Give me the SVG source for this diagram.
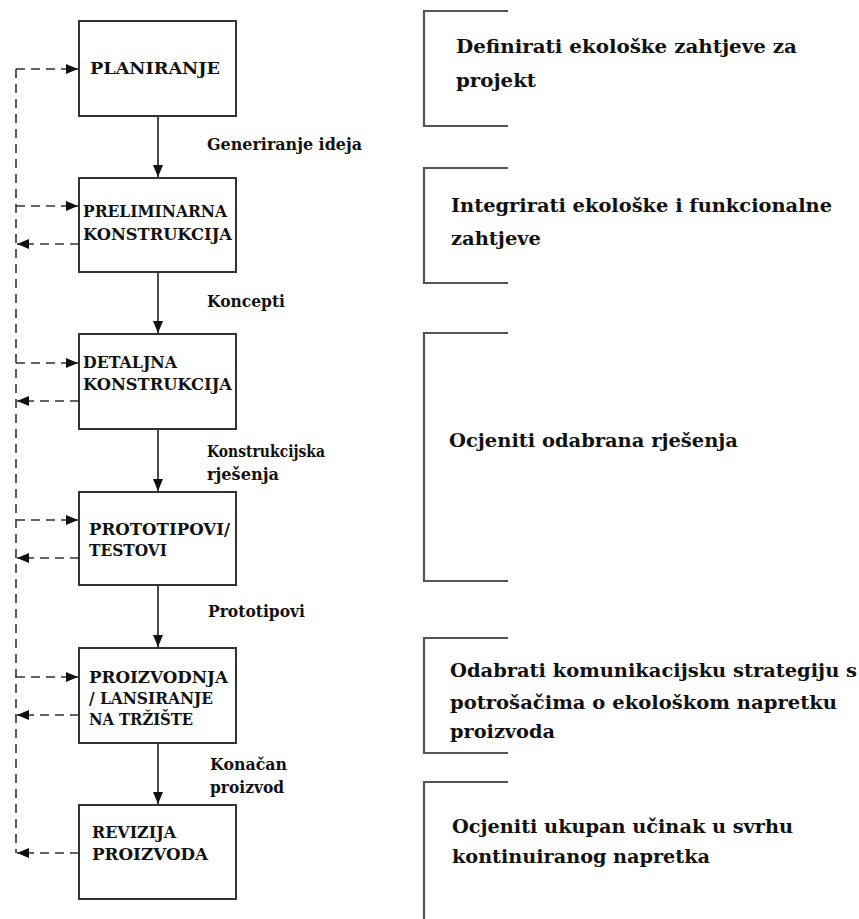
<svg xmlns="http://www.w3.org/2000/svg" width="859" height="919" viewBox="0 0 859 919">
<style>
.box{fill:#fff;stroke:#333;stroke-width:2}
.bt{font-family:"DejaVu Serif","Liberation Serif",serif;font-weight:bold;font-size:16px;fill:#111}
.lt{font-family:"DejaVu Serif","Liberation Serif",serif;font-weight:bold;font-size:16px;fill:#111}
.rt{font-family:"DejaVu Serif","Liberation Serif",serif;font-weight:bold;font-size:19px;fill:#111}
.solid{stroke:#111;stroke-width:1.5;fill:none}
.dash{stroke:#333;stroke-width:1.6;fill:none;stroke-dasharray:9 6}
.br{stroke:#555;stroke-width:2.2;fill:none}
</style>
<defs>
<marker id="ah" markerUnits="userSpaceOnUse" markerWidth="12" markerHeight="10" refX="12" refY="5" orient="auto">
<path d="M0,0 L12,5 L0,10 z" fill="#111"/>
</marker>
</defs>
<rect width="859" height="919" fill="#fff"/>

<g id="connectors">
<line class="solid" x1="158" y1="116" x2="158" y2="177" marker-end="url(#ah)"/>
<line class="solid" x1="158" y1="272" x2="158" y2="333" marker-end="url(#ah)"/>
<line class="solid" x1="158" y1="429" x2="158" y2="491" marker-end="url(#ah)"/>
<line class="solid" x1="158" y1="585" x2="158" y2="647" marker-end="url(#ah)"/>
<line class="solid" x1="158" y1="743" x2="158" y2="804" marker-end="url(#ah)"/>
<line class="dash" x1="16" y1="69" x2="16" y2="853"/>
<line class="dash" x1="16" y1="69" x2="78" y2="69" marker-end="url(#ah)"/>
<line class="dash" x1="16" y1="206" x2="78" y2="206" marker-end="url(#ah)"/>
<line class="dash" x1="79" y1="244" x2="17" y2="244" marker-end="url(#ah)"/>
<line class="dash" x1="16" y1="363" x2="78" y2="363" marker-end="url(#ah)"/>
<line class="dash" x1="79" y1="401" x2="17" y2="401" marker-end="url(#ah)"/>
<line class="dash" x1="16" y1="520" x2="78" y2="520" marker-end="url(#ah)"/>
<line class="dash" x1="79" y1="558" x2="17" y2="558" marker-end="url(#ah)"/>
<line class="dash" x1="16" y1="677" x2="78" y2="677" marker-end="url(#ah)"/>
<line class="dash" x1="79" y1="715" x2="17" y2="715" marker-end="url(#ah)"/>
<line class="dash" x1="79" y1="853" x2="17" y2="853" marker-end="url(#ah)"/>
<text class="lt" x="207" y="150" textLength="155" lengthAdjust="spacingAndGlyphs">Generiranje ideja</text>
<text class="lt" x="207" y="307" textLength="78" lengthAdjust="spacingAndGlyphs">Koncepti</text>
<text class="lt" x="207" y="457" textLength="118" lengthAdjust="spacingAndGlyphs">Konstrukcijska</text>
<text class="lt" x="207" y="480" textLength="72" lengthAdjust="spacingAndGlyphs">rješenja</text>
<text class="lt" x="208" y="617" textLength="97" lengthAdjust="spacingAndGlyphs">Prototipovi</text>
<text class="lt" x="210" y="770" textLength="77" lengthAdjust="spacingAndGlyphs">Konačan</text>
<text class="lt" x="210" y="793" textLength="74" lengthAdjust="spacingAndGlyphs">proizvod</text>
</g>

<g id="planiranje">
<rect class="box" x="79" y="21" width="157" height="95"/>
<text class="bt" x="90" y="74" textLength="130" lengthAdjust="spacingAndGlyphs">PLANIRANJE</text>
</g>
<g id="preliminarna">
<rect class="box" x="79" y="178" width="157" height="94"/>
<text class="bt" x="83" y="217" textLength="144" lengthAdjust="spacingAndGlyphs">PRELIMINARNA</text>
<text class="bt" x="83" y="240" textLength="149" lengthAdjust="spacingAndGlyphs">KONSTRUKCIJA</text>
</g>
<g id="detaljna">
<rect class="box" x="79" y="334" width="157" height="95"/>
<text class="bt" x="83" y="368" textLength="94" lengthAdjust="spacingAndGlyphs">DETALJNA</text>
<text class="bt" x="83" y="390" textLength="149" lengthAdjust="spacingAndGlyphs">KONSTRUKCIJA</text>
</g>
<g id="prototipovi">
<rect class="box" x="79" y="492" width="157" height="93"/>
<text class="bt" x="89" y="535" textLength="141" lengthAdjust="spacingAndGlyphs">PROTOTIPOVI/</text>
<text class="bt" x="89" y="556" textLength="78" lengthAdjust="spacingAndGlyphs">TESTOVI</text>
</g>
<g id="proizvodnja">
<rect class="box" x="79" y="648" width="157" height="95"/>
<text class="bt" x="89" y="683" textLength="139" lengthAdjust="spacingAndGlyphs">PROIZVODNJA</text>
<text class="bt" x="89" y="704" textLength="124" lengthAdjust="spacingAndGlyphs">/ LANSIRANJE</text>
<text class="bt" x="89" y="725" textLength="104" lengthAdjust="spacingAndGlyphs">NA TRŽIŠTE</text>
</g>
<g id="revizija">
<rect class="box" x="79" y="805" width="157" height="94"/>
<text class="bt" x="92" y="838" textLength="84" lengthAdjust="spacingAndGlyphs">REVIZIJA</text>
<text class="bt" x="92" y="860" textLength="116" lengthAdjust="spacingAndGlyphs">PROIZVODA</text>
</g>

<g id="note1">
<path class="br" d="M508,11 H424 V126 H508"/>
<text class="rt" x="456" y="53" textLength="341" lengthAdjust="spacingAndGlyphs">Definirati ekološke zahtjeve za</text>
<text class="rt" x="456" y="87" textLength="80" lengthAdjust="spacingAndGlyphs">projekt</text>
</g>
<g id="note2">
<path class="br" d="M508,168 H424 V283 H508"/>
<text class="rt" x="451" y="212" textLength="381" lengthAdjust="spacingAndGlyphs">Integrirati ekološke i funkcionalne</text>
<text class="rt" x="451" y="245" textLength="90" lengthAdjust="spacingAndGlyphs">zahtjeve</text>
</g>
<g id="note3">
<path class="br" d="M508,333 H424 V581 H508"/>
<text class="rt" x="449" y="447" textLength="289" lengthAdjust="spacingAndGlyphs">Ocjeniti odabrana rješenja</text>
</g>
<g id="note4">
<path class="br" d="M508,638 H424 V753 H508"/>
<text class="rt" x="450" y="677" textLength="407" lengthAdjust="spacingAndGlyphs">Odabrati komunikacijsku strategiju s</text>
<text class="rt" x="450" y="709" textLength="387" lengthAdjust="spacingAndGlyphs">potrošačima o ekološkom napretku</text>
<text class="rt" x="450" y="738" textLength="105" lengthAdjust="spacingAndGlyphs">proizvoda</text>
</g>
<g id="note5">
<path class="br" d="M508,782 H424 V919"/>
<text class="rt" x="452" y="833" textLength="341" lengthAdjust="spacingAndGlyphs">Ocjeniti ukupan učinak u svrhu</text>
<text class="rt" x="452" y="863" textLength="258" lengthAdjust="spacingAndGlyphs">kontinuiranog napretka</text>
</g>
</svg>
